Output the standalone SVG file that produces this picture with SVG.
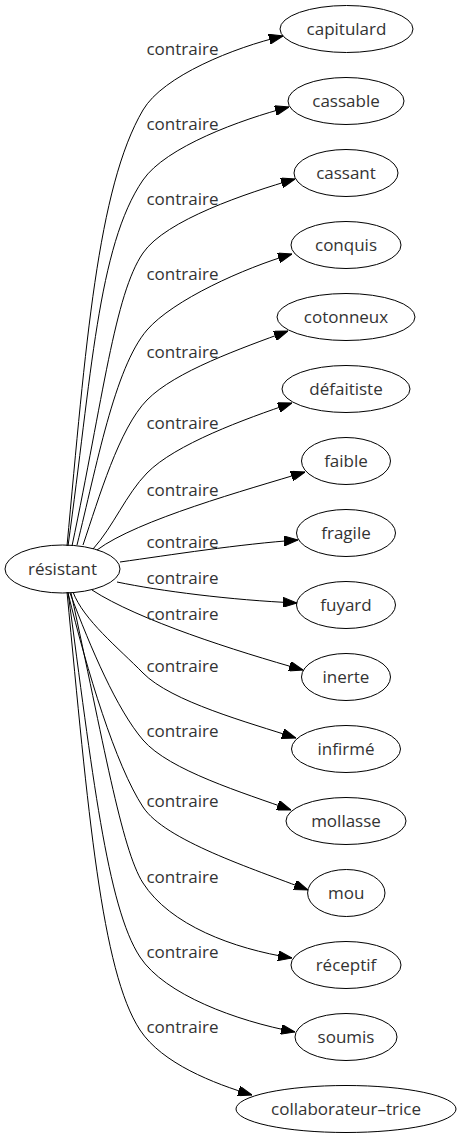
<svg xmlns="http://www.w3.org/2000/svg" width="462" height="1139" viewBox="0 0 462 1139">
<style>
.n ellipse{fill:none;stroke:#000;stroke-width:1}
.n text{font-family:"Open Sans","DejaVu Sans",sans-serif;font-size:17px;fill:#333;text-anchor:middle}
.e path{fill:none;stroke:#000;stroke-width:1;marker-end:url(#ah)}
.e text{font-family:"Open Sans","DejaVu Sans",sans-serif;font-size:17px;fill:#333;text-anchor:middle}
</style>
<defs>
<marker id="ah" markerUnits="userSpaceOnUse" markerWidth="14" markerHeight="10" viewBox="0 0 14 10" refX="14" refY="5" orient="auto">
<path d="M0,0 L14,5 L0,10 z" fill="#000" stroke="#000" stroke-width="1"/>
</marker>
</defs>
<rect width="462" height="1139" fill="#fff"/>
<g id="edges" class="e">
<path d="M67,546 C85.6,347 97.4,187.6 143,110 C163,76 234,47.5 283,36"/>
<path d="M68,546 C91.5,378 97.6,246 143,180 C165.7,147 240.6,119.6 289,107"/>
<path d="M72,546 C103,399 114.7,294 143,253 C165.6,220 247,193 295,179"/>
<path d="M77,545 C96.4,467.4 114.4,367.9 147,330 C173,300 244,268 292,254"/>
<path d="M83,545 C99,497.7 119,428.6 147,400 C175,371.4 241,348.4 288,331"/>
<path d="M93,549 C113.2,526.8 126,494.4 147,473 C175,444.4 244.6,419 292,403"/>
<path d="M97,550 C137,520 247.6,489.5 305,472"/>
<path d="M120,562 C170,555 240,544 298,540"/>
<path d="M117,582 C160,591 230,600 297,603"/>
<path d="M92,590 C138,620 235.8,651.1 303,670"/>
<path d="M73,592 C83.5,620 118.5,648 143,673 C171,701.6 248.5,722.5 296,738"/>
<path d="M70,593 C91,649 117,709.6 143,740 C169,770.4 244,793 291,810"/>
<path d="M68,593 C87,670.7 115.5,765 143,807 C165,840.4 252.2,868.4 308,890"/>
<path d="M71,593 C103,739.5 121.4,849.4 143,883 C170,925 232.7,948.6 292,958"/>
<path d="M68,592 C92,770.4 107,906.9 140,957 C164.75,994.6 236,1020.8 295,1032"/>
<path d="M67,592 C88,811 101.5,971.5 140,1030 C162,1063.4 213.7,1083.5 252,1095"/>
<text x="182.5" y="55">contraire</text>
<text x="182.5" y="130">contraire</text>
<text x="182.5" y="205">contraire</text>
<text x="182.5" y="280">contraire</text>
<text x="182.5" y="358">contraire</text>
<text x="182.5" y="429">contraire</text>
<text x="182.5" y="496">contraire</text>
<text x="182.5" y="548">contraire</text>
<text x="182.5" y="584">contraire</text>
<text x="182.5" y="620">contraire</text>
<text x="182.5" y="672">contraire</text>
<text x="182.5" y="737">contraire</text>
<text x="182.5" y="807">contraire</text>
<text x="182.5" y="883">contraire</text>
<text x="182.5" y="958">contraire</text>
<text x="182.5" y="1033">contraire</text>
</g>
<g id="resistant" class="n"><ellipse cx="62.5" cy="569" rx="57.5" ry="24"/><text x="62.5" y="575">résistant</text></g>
<g id="capitulard" class="n"><ellipse cx="346.5" cy="29" rx="66.5" ry="23.5"/><text x="346.5" y="35">capitulard</text></g>
<g id="cassable" class="n"><ellipse cx="346" cy="101" rx="58" ry="23.5"/><text x="346" y="107">cassable</text></g>
<g id="cassant" class="n"><ellipse cx="346" cy="173" rx="52" ry="23.5"/><text x="346" y="179">cassant</text></g>
<g id="conquis" class="n"><ellipse cx="346" cy="245" rx="55" ry="23.5"/><text x="346" y="251">conquis</text></g>
<g id="cotonneux" class="n"><ellipse cx="346" cy="317" rx="69" ry="23.5"/><text x="346" y="323">cotonneux</text></g>
<g id="defaitiste" class="n"><ellipse cx="346" cy="389" rx="64" ry="23.5"/><text x="346" y="395">défaitiste</text></g>
<g id="faible" class="n"><ellipse cx="346" cy="461" rx="44.5" ry="23.5"/><text x="346" y="467">faible</text></g>
<g id="fragile" class="n"><ellipse cx="346" cy="533" rx="49.5" ry="23.5"/><text x="346" y="539">fragile</text></g>
<g id="fuyard" class="n"><ellipse cx="346" cy="605" rx="49.5" ry="23.5"/><text x="346" y="611">fuyard</text></g>
<g id="inerte" class="n"><ellipse cx="346" cy="677" rx="44.5" ry="23.5"/><text x="346" y="683">inerte</text></g>
<g id="infirme" class="n"><ellipse cx="346" cy="749" rx="54.5" ry="23.5"/><text x="346" y="755">infirmé</text></g>
<g id="mollasse" class="n"><ellipse cx="346" cy="821" rx="60" ry="23.5"/><text x="346" y="827">mollasse</text></g>
<g id="mou" class="n"><ellipse cx="346.3" cy="893" rx="38.7" ry="23.5"/><text x="346.3" y="899">mou</text></g>
<g id="receptif" class="n"><ellipse cx="346" cy="965" rx="55" ry="23.5"/><text x="346" y="971">réceptif</text></g>
<g id="soumis" class="n"><ellipse cx="346" cy="1037" rx="51" ry="23.5"/><text x="346" y="1043">soumis</text></g>
<g id="collaborateur-trice" class="n"><ellipse cx="346" cy="1109" rx="110" ry="23.5"/><text x="346" y="1115">collaborateur–trice</text></g>
</svg>
